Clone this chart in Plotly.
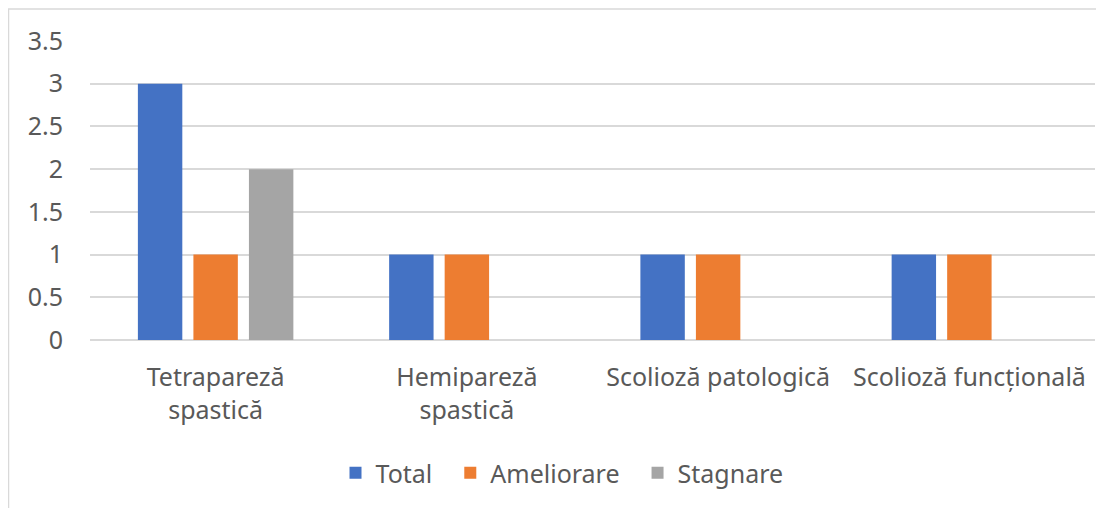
import plotly.graph_objects as go

categories = ["Tetrapareză<br>spastică", "Hemipareză<br>spastică", "Scolioză patologică", "Scolioză funcțională"]
series_names = ["Total", "Ameliorare", "Stagnare"]
total = [3, 1, 1, 1]
ameliorare = [1, 1, 1, 1]
stagnare = [2, 0, 0, 0]
y_ticks = [0, 0.5, 1, 1.5, 2, 2.5, 3, 3.5]

# the page body adds an 8px margin, so the figure is drawn 8px in from the window edge
OFF = 8
W, H = 1104 - OFF, 508 - OFF
L, R, T, B = 90 - OFF, 1104 - OFF - 1087, 41 - OFF, 508 - OFF - (340 - OFF)
pw, ph = W - L - R, H - T - B

def px(x):
    return (x - OFF - L) / pw

def py(y):
    return (H - B - (y - OFF)) / ph

text_color = "#595959"
font = dict(family="Noto Sans, sans-serif", size=25, color=text_color)

fig = go.Figure()
colors = ["#4472C4", "#ED7D31", "#A5A5A5"]
for i, (name, vals) in enumerate(zip(series_names, [total, ameliorare, stagnare])):
    # non-breaking spaces widen the gap between legend entries, like Excel's
    label = name + ("\u00a0\u00a0" if i < len(series_names) - 1 else "")
    fig.add_trace(go.Bar(x=categories, y=vals, name=label,
                         marker=dict(color=colors[i], line=dict(width=0))))

fig.update_layout(
    width=W, height=H,
    margin=dict(l=L, r=R, t=T, b=B, autoexpand=False),
    barmode="group",
    bargap=0.337,
    bargroupgap=0.2,
    plot_bgcolor="white",
    paper_bgcolor="white",
    font=font,
    showlegend=True,
    legend=dict(
        orientation="h",
        xanchor="center", x=px(562),
        yanchor="middle", y=py(473),
        font=font,
        itemwidth=30,
        tracegroupgap=0,
    ),
    shapes=[dict(
        type="rect", xref="paper", yref="paper",
        x0=px(8.5), x1=px(1120), y0=py(520), y1=py(9),
        line=dict(color="#d9d9d9", width=1.5), layer="below",
    )],
)
fig.update_xaxes(showline=False, ticks="", tickfont=font, ticklabelstandoff=20, automargin=False)
fig.update_yaxes(
    range=[0, 3.5], tickmode="array", tickvals=y_ticks, ticktext=[f"{v:g}" for v in y_ticks],
    showgrid=True, gridcolor="#d9d9d9", gridwidth=1.5,
    zeroline=True, zerolinecolor="#d9d9d9", zerolinewidth=1.5,
    showline=False, ticks="", tickfont=font, ticklabelstandoff=26, automargin=False,
)

fig.write_html("out.html")
